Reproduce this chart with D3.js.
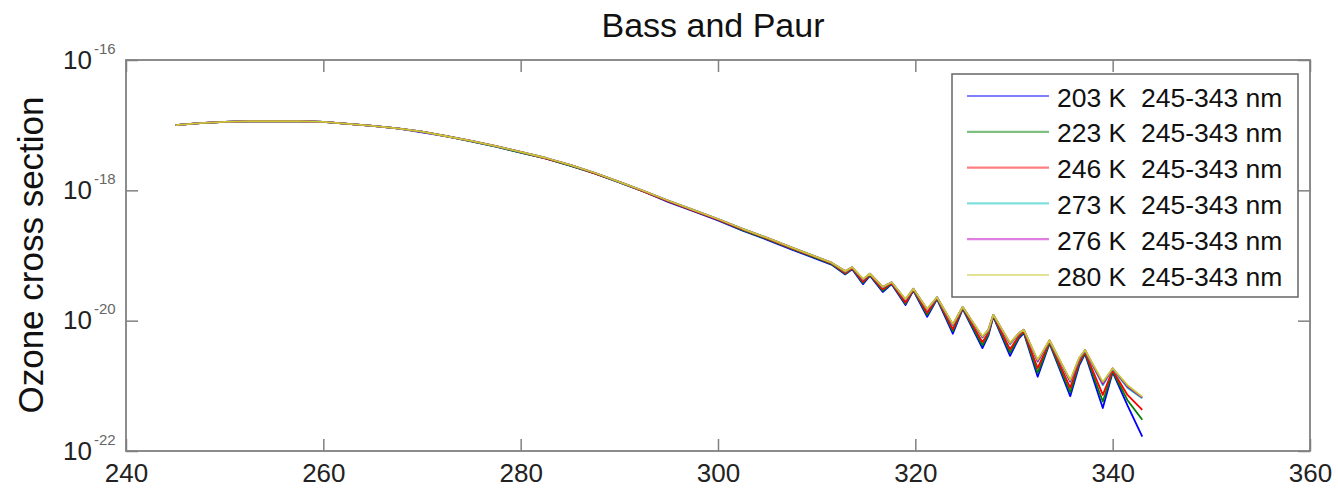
<!DOCTYPE html>
<html>
<head>
<meta charset="utf-8">
<script src="https://cdn.jsdelivr.net/npm/d3@7"></script>
<style>
body { margin: 0; background: #fff; }
text { font-family: "Liberation Sans", Arial, sans-serif; }
</style>
</head>
<body>
<script>
// wavelength (nm)
var wavelengths = [245, 247.5, 250, 252.5, 255, 257.5, 260, 262.5, 265, 267.5, 270, 272.5, 275, 277.5,
  280, 282.5, 285, 287.5, 290, 292.5, 295, 297.5, 300, 302.5, 305, 307.5,
  310.3, 311.5, 312.9, 313.6, 314.7, 315.4, 316.7, 317.6, 319.0, 319.8, 321.2, 322.2, 323.8, 324.8,
  326.8, 327.4, 327.9, 329.6, 330.5, 331.0, 332.4, 333.6, 335.7, 336.6, 337.2, 339.0, 340.0, 341.5, 343.0];

// log10 of the cross section, one list per temperature
var sigma203 = [-17.00, -16.97, -16.95, -16.94, -16.94, -16.94, -16.95, -16.98, -17.01, -17.05, -17.11, -17.17, -17.25, -17.33,
  -17.42, -17.51, -17.62, -17.74, -17.88, -18.02, -18.18, -18.32, -18.46, -18.62, -18.76, -18.91,
  -19.07, -19.14, -19.29, -19.21, -19.44, -19.31, -19.56, -19.44, -19.76, -19.54, -19.94, -19.67, -20.20, -19.82,
  -20.42, -20.23, -19.94, -20.54, -20.27, -20.19, -20.86, -20.35, -21.16, -20.69, -20.51, -21.34, -20.79, -21.30, -21.78];
var sigma223 = [-17.00, -16.97, -16.95, -16.94, -16.94, -16.94, -16.95, -16.98, -17.01, -17.05, -17.10, -17.17, -17.25, -17.33,
  -17.42, -17.51, -17.62, -17.74, -17.88, -18.02, -18.17, -18.31, -18.45, -18.61, -18.75, -18.90,
  -19.06, -19.13, -19.28, -19.20, -19.42, -19.30, -19.54, -19.43, -19.74, -19.53, -19.91, -19.66, -20.16, -19.81,
  -20.38, -20.21, -19.93, -20.49, -20.25, -20.18, -20.80, -20.34, -21.10, -20.66, -20.50, -21.24, -20.78, -21.22, -21.52];
var sigma246 = [-17.00, -16.97, -16.95, -16.94, -16.94, -16.94, -16.95, -16.98, -17.01, -17.05, -17.10, -17.17, -17.24, -17.32,
  -17.41, -17.51, -17.61, -17.74, -17.87, -18.02, -18.17, -18.31, -18.45, -18.60, -18.74, -18.89,
  -19.05, -19.12, -19.27, -19.19, -19.40, -19.29, -19.52, -19.42, -19.72, -19.52, -19.88, -19.65, -20.13, -19.80,
  -20.33, -20.18, -19.92, -20.44, -20.23, -20.16, -20.73, -20.32, -21.03, -20.63, -20.48, -21.14, -20.76, -21.14, -21.37];
var sigma273 = [-17.00, -16.97, -16.95, -16.94, -16.94, -16.94, -16.95, -16.98, -17.01, -17.05, -17.10, -17.17, -17.24, -17.32,
  -17.41, -17.50, -17.61, -17.73, -17.87, -18.01, -18.16, -18.30, -18.44, -18.59, -18.73, -18.88,
  -19.04, -19.11, -19.25, -19.18, -19.37, -19.28, -19.49, -19.41, -19.68, -19.51, -19.83, -19.64, -20.07, -19.79,
  -20.26, -20.15, -19.91, -20.36, -20.20, -20.14, -20.63, -20.31, -20.94, -20.59, -20.46, -20.99, -20.74, -21.03, -21.19];
var sigma276 = [-17.00, -16.97, -16.95, -16.94, -16.94, -16.94, -16.95, -16.98, -17.01, -17.05, -17.10, -17.17, -17.24, -17.32,
  -17.41, -17.50, -17.61, -17.73, -17.87, -18.01, -18.16, -18.30, -18.44, -18.59, -18.73, -18.88,
  -19.04, -19.11, -19.24, -19.18, -19.37, -19.28, -19.48, -19.41, -19.68, -19.51, -19.83, -19.64, -20.06, -19.79,
  -20.25, -20.14, -19.91, -20.35, -20.19, -20.14, -20.62, -20.30, -20.93, -20.58, -20.45, -20.97, -20.73, -21.01, -21.18];
var sigma280 = [-17.00, -16.97, -16.95, -16.94, -16.94, -16.94, -16.95, -16.98, -17.01, -17.05, -17.10, -17.17, -17.24, -17.32,
  -17.41, -17.50, -17.61, -17.73, -17.87, -18.01, -18.16, -18.30, -18.44, -18.59, -18.73, -18.88,
  -19.04, -19.11, -19.24, -19.18, -19.36, -19.28, -19.48, -19.41, -19.67, -19.51, -19.82, -19.64, -20.05, -19.79,
  -20.24, -20.14, -19.91, -20.34, -20.19, -20.14, -20.60, -20.30, -20.91, -20.57, -20.45, -20.94, -20.73, -20.99, -21.17];

var seriesNames = ["203 K  245-343 nm", "223 K  245-343 nm", "246 K  245-343 nm",
                   "273 K  245-343 nm", "276 K  245-343 nm", "280 K  245-343 nm"];
var seriesColors = ["#0000ff", "#008000", "#ff0000", "#00bfbf", "#bf00bf", "#c8c830"];
var allSeries = [sigma203, sigma223, sigma246, sigma273, sigma276, sigma280];

var xTicks = [240, 260, 280, 300, 320, 340, 360];
var yTicks = [1e-22, 1e-20, 1e-18, 1e-16];
var yTickExps = ["-22", "-20", "-18", "-16"];

var w = 1338;
var h = 490;
var pLeft = 126, pRight = 1310, pTop = 60, pBottom = 451;
var axisColor = "#808080";

var svg = d3.select("body")
    .append("svg")
    .attr("width", w)
    .attr("height", h);

var x = d3.scaleLinear().domain([240, 360]).range([pLeft, pRight]);
var y = d3.scaleLog().domain([1e-22, 1e-16]).range([pBottom, pTop]);

svg.append("text")
   .attr("x", 713)
   .attr("y", 37)
   .attr("text-anchor", "middle")
   .attr("font-size", "34px")
   .attr("fill", "#111")
   .text("Bass and Paur");

svg.append("text")
   .attr("transform", "translate(43,255) rotate(-90)")
   .attr("text-anchor", "middle")
   .attr("font-size", "35px")
   .attr("fill", "#111")
   .text("Ozone cross section");

// curves, yellow ends up on top
var line = d3.line()
    .x(function(d, i) { return x(wavelengths[i]); })
    .y(function(d) { return y(Math.pow(10, d)); });

svg.selectAll(".curve")
   .data(allSeries)
   .enter()
   .append("path")
   .attr("class", "curve")
   .attr("d", line)
   .attr("fill", "none")
   .attr("stroke", function(d, i) { return seriesColors[i]; })
   .attr("stroke-width", 1.8)
   .attr("stroke-linejoin", "round");

// axes, ticks point inward on all four sides
function styleAxis(g) {
  g.select(".domain").remove();
  g.selectAll(".tick line").attr("stroke", axisColor).attr("stroke-width", 1.5);
}

svg.append("g")
   .attr("transform", "translate(0," + pBottom + ")")
   .call(d3.axisBottom(x).tickValues(xTicks).tickSize(-12).tickPadding(13))
   .call(styleAxis)
   .call(function(g) {
     g.selectAll("text").attr("font-size", "26px").attr("fill", "#222")
      .attr("font-family", "Liberation Sans, Arial, sans-serif");
   });

svg.append("g")
   .attr("transform", "translate(0," + pTop + ")")
   .call(d3.axisTop(x).tickValues(xTicks).tickSize(-12).tickFormat(""))
   .call(styleAxis);

svg.append("g")
   .attr("transform", "translate(" + pLeft + ",0)")
   .call(d3.axisLeft(y).tickValues(yTicks).tickSize(-12).tickFormat(""))
   .call(styleAxis);

svg.append("g")
   .attr("transform", "translate(" + pRight + ",0)")
   .call(d3.axisRight(y).tickValues(yTicks).tickSize(-12).tickFormat(""))
   .call(styleAxis);

var yLab = svg.selectAll(".ylab")
   .data(yTicks)
   .enter()
   .append("text")
   .attr("class", "ylab")
   .attr("x", 63)
   .attr("y", function(d) { return y(d) + 8.5; });
yLab.append("tspan")
   .attr("font-size", "26px")
   .attr("fill", "#222")
   .text("10");
yLab.append("tspan")
   .attr("font-size", "15px")
   .attr("fill", "#666")
   .attr("dx", 2)
   .attr("dy", -15)
   .text(function(d, i) { return yTickExps[i]; });

svg.append("rect")
   .attr("x", pLeft)
   .attr("y", pTop)
   .attr("width", pRight - pLeft)
   .attr("height", pBottom - pTop)
   .attr("fill", "none")
   .attr("stroke", axisColor)
   .attr("stroke-width", 1.8);

// legend
var legend = svg.append("g");
legend.append("rect")
   .attr("x", 952)
   .attr("y", 74)
   .attr("width", 346)
   .attr("height", 223)
   .attr("fill", "#fff")
   .attr("stroke", "#666")
   .attr("stroke-width", 1.5);

var rows = legend.selectAll(".row")
   .data(seriesNames)
   .enter()
   .append("g")
   .attr("class", "row")
   .attr("transform", function(d, i) { return "translate(0," + (96 + i * 35.8) + ")"; });
rows.append("line")
   .attr("x1", 967)
   .attr("x2", 1049)
   .attr("stroke", function(d, i) { return seriesColors[i]; })
   .attr("stroke-opacity", 0.5)
   .attr("stroke-width", 2.2);
rows.append("text")
   .attr("x", 1057)
   .attr("y", 10.5)
   .attr("font-size", "26.5px")
   .attr("fill", "#111")
   .style("white-space", "pre")
   .text(function(d) { return d; });
</script>
</body>
</html>
